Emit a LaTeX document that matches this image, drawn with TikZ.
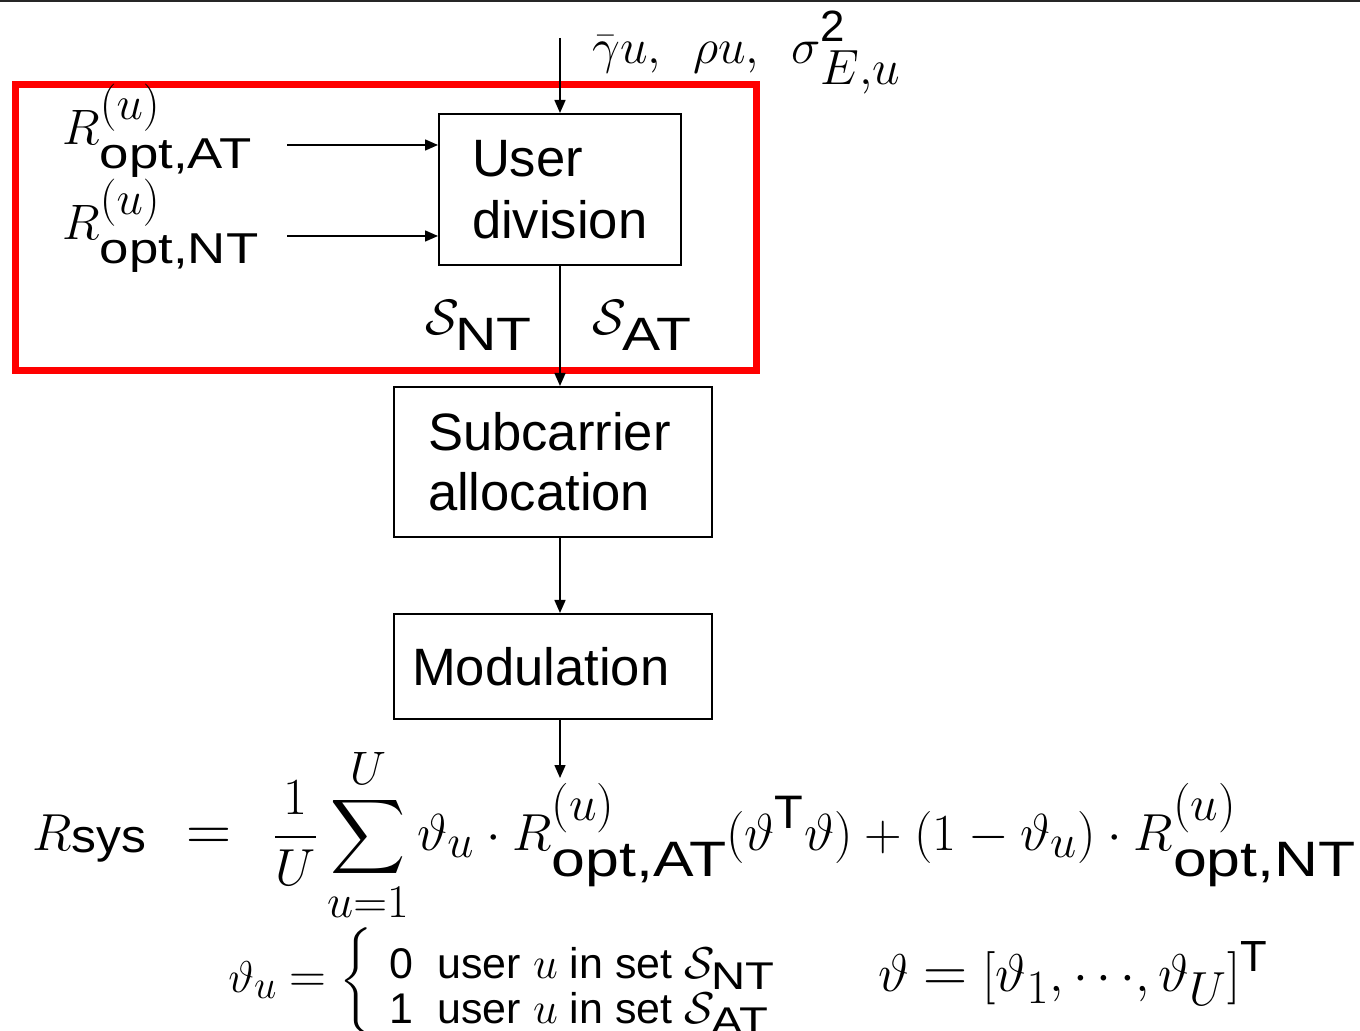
\documentclass[tikz,border=0pt]{standalone}
\usepackage{amsmath}
\usepackage[no-math]{fontspec}
\setsansfont{Liberation Sans}
\usetikzlibrary{arrows.meta}
\newcommand\mt[1]{\mbox{\scalebox{0.9}{$#1$}}}
\newcommand\st[1]{\mbox{\scalebox{1.1}[0.9]{\sffamily #1}}}
\newcommand\sT{\mbox{\scalebox{0.85}{\sffamily T}}}
\newcommand\Rop[1]{R\rlap{\raisebox{0.54em}{\scalebox{0.95}{$(u)$}}}\raisebox{-0.48em}{\st{opt,#1}}}
\newcommand\req{\mathrel{\scalebox{1.15}{$=$}}}
\begin{document}
\begin{tikzpicture}[x=0.5pt,y=-0.5pt,
  box/.style={draw, line width=1pt, inner ysep=0pt, align=left,
    font=\sffamily\fontsize{26.3}{31}\selectfont},
  arr/.style={-{Triangle[length=6.5pt,width=5.5pt]}, line width=0.75pt},
  lbl/.style={inner sep=0pt, anchor=base west}]
\useasboundingbox (0,0) rectangle (1360,1031);
\draw[line width=1pt, black!85] (0,1) -- (1360,1);

% boxes
\node[box, text width=88pt, inner xsep=16.5pt, minimum height=75.5pt] (ud) at (560,189.5) {User\\division};
\node[box, text width=125pt, inner xsep=17pt, minimum height=75pt,
  font=\sffamily\fontsize{26.3}{30}\selectfont] (sa) at (553,462) {Subcarrier\\allocation};
\node[box, text width=141pt, inner xsep=9pt, minimum height=52.5pt] (mod) at (553,666.5) {Modulation};

% red frame
\draw[red, line width=3.5pt] (15,85) rectangle (756,371);

% labels
\node[lbl] (prm) at (592,64) {\fontsize{18}{22}\selectfont\resizebox{154pt}{!}{$\bar\gamma u,\ \,\rho u,\ \,\sigma\rlap{\raisebox{0.44em}{\scalebox{0.85}{\sffamily 2}}}\raisebox{-0.4em}{$E{,}u$}$}};
\node[lbl] (ra) at (62,145) {\fontsize{24}{28}\selectfont$\Rop{AT}$};
\node[lbl] (rn) at (62,240) {\fontsize{24}{28}\selectfont$\Rop{NT}$};
\node[lbl] (snt) at (425,335) {\fontsize{26}{30}\selectfont$\mathcal{S}_{\st{NT}}$};
\node[lbl] (sat) at (592,335) {\fontsize{26}{30}\selectfont$\mathcal{S}_{\st{AT}}$};

% connectors
\coordinate (in) at (560,38);
\coordinate (a1) at (287,145);
\coordinate (a2) at (287,236);
\coordinate (out) at (560,778);
\draw[arr] (in) -- (ud.north);
\draw[arr] (a1) -- (a1 -| ud.west);
\draw[arr] (a2) -- (a2 -| ud.west);
\draw[arr] (ud.south) -- (ud.south |- sa.north);
\draw[arr] (ud.south |- sa.south) -- (ud.south |- mod.north);
\draw[arr] (ud.south |- mod.south) -- (out);

% equations
\node[lbl] (eq) at (32,850) {\fontsize{22}{26}\selectfont\resizebox{661.5pt}{!}{$\displaystyle R\raisebox{-0.05em}{\mbox{\scalebox{0.9}[0.85]{\sffamily sys}}}\mkern14mu\scalebox{1.2}{$=$}\mkern14mu\frac{1}{U}\sum_{\mt{u{=}1}}^{\mt{U}}\vartheta_{\mt{u}}\cdot \Rop{AT}(\vartheta^{\sT}\vartheta)+(1-\vartheta_{\mt{u}})\cdot \Rop{NT}$}};
\node[lbl] (cs) at (228,992) {\fontsize{20}{24}\selectfont\resizebox{273.5pt}{!}{$\vartheta_{\mt{u}}\req\left\{\vphantom{\begin{array}{l}X\\X\end{array}}\right.\raisebox{-0.25em}{$\renewcommand\arraystretch{0.88}\begin{array}{@{\,}l@{}}\text{\sffamily 0\ \ user }u\text{\sffamily\ in set }\mathcal{S}_{\st{NT}}\\ \text{\sffamily 1\ \ user }u\text{\sffamily\ in set }\mathcal{S}_{\st{AT}}\end{array}$}$}};
\node[lbl] (vt) at (878,991) {\fontsize{20}{24}\selectfont\resizebox{195pt}{!}{$\vartheta\req[\vartheta_{\mt{1}},{\cdots},\vartheta_{\mt{U}}]^{\sT}$}};
\end{tikzpicture}
\end{document}
